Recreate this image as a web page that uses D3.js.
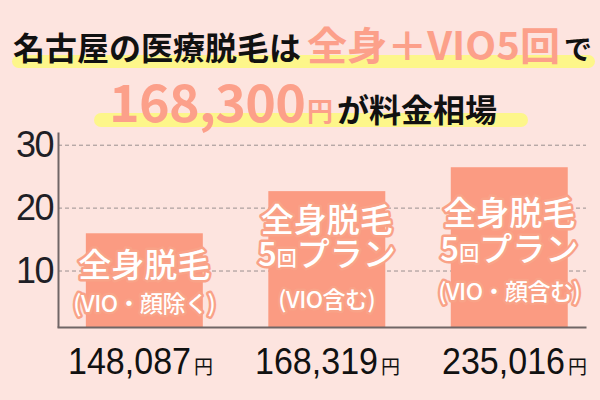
<!DOCTYPE html>
<html>
<head>
<meta charset="utf-8">
<script src="https://cdn.jsdelivr.net/npm/d3@7"></script>
<style>
  body { margin: 0; background: #fde4df; }
  svg { display: block; }
</style>
</head>
<body>
<div id="chart"></div>
<script>
// data
const categories = ["whole", "plan5", "plan5face"]
const barValues = [16.0, 22.7, 26.5]
const barLabels = [
  ["全身脱毛", "(VIO・顔除く)"],
  ["全身脱毛", "5回プラン", "(VIO含む)"],
  ["全身脱毛", "5回プラン", "(VIO・顔含む)"]
]
const prices = ["148,087", "168,319", "235,016"]
const yTicks = [10, 20, 30]

const width = 600
const height = 400
const salmon = "#fca08a"
const barColor = "#fb9b82"
const jp = "'Noto Sans CJK JP', sans-serif"

const svg = d3.select("#chart")
  .append("svg")
  .attr("width", width)
  .attr("height", height)

svg.append("rect").attr("width", width).attr("height", height).attr("fill", "#fde4df")

// title with yellow marker lines
svg.append("rect").attr("x", 12).attr("y", 55).attr("width", 583).attr("height", 13)
  .attr("rx", 6.5).attr("fill", "#fdf68a")
svg.append("rect").attr("x", 94).attr("y", 113).attr("width", 434).attr("height", 14)
  .attr("rx", 7).attr("fill", "#fdf68a")

function titlePart(txt, xx, yy, size, fill, len) {
  const t = svg.append("text")
    .attr("x", xx).attr("y", yy)
    .attr("font-family", jp)
    .attr("font-weight", 700)
    .attr("font-size", size)
    .attr("fill", fill)
    .text(txt)
  if (len) t.attr("textLength", len).attr("lengthAdjust", "spacingAndGlyphs")
  return t
}
titlePart("名古屋の医療脱毛は", 13, 60, 32, "#111", 288)
titlePart("全身＋VIO5回", 307, 60, 39, salmon, 253)
titlePart("で", 564, 60, 28, "#111")

titlePart("168,300", 109, 122, 52, salmon, 197).attr("lengthAdjust", "spacing")
titlePart("円", 307, 121, 26, salmon)
titlePart("が料金相場", 337, 122, 32, "#111", 160)

// scales
const x = d3.scaleBand()
  .domain(categories)
  .range([53, 600.6])
  .paddingInner(0.359)
  .paddingOuter(0.18)

const y = d3.scaleLinear()
  .domain([1.1, 32.1])
  .range([327, 132])

// grid lines (behind the bars)
svg.append("g")
  .selectAll("line")
  .data(yTicks)
  .enter()
  .append("line")
    .attr("x1", 58).attr("x2", 586)
    .attr("y1", d => y(d)).attr("y2", d => y(d))
    .attr("stroke", "#9a9090")
    .attr("stroke-width", 1)
    .attr("stroke-dasharray", "4,3")

svg.append("g")
  .selectAll("rect")
  .data(barValues)
  .enter()
  .append("rect")
    .attr("x", (d, i) => x(categories[i]))
    .attr("y", d => y(d))
    .attr("width", x.bandwidth())
    .attr("height", d => y(y.domain()[0]) - y(d))
    .attr("fill", barColor)

// axes
const yAxis = svg.append("g")
  .attr("transform", "translate(58,0)")
  .call(d3.axisLeft(y).tickValues(yTicks).tickSize(0).tickPadding(5))
yAxis.select(".domain").attr("stroke", "#706666").attr("stroke-width", 2)
yAxis.selectAll("text")
  .attr("font-family", "'Liberation Sans', Arial, sans-serif")
  .attr("font-size", 36)
  .attr("letter-spacing", -1.5)
  .attr("fill", "#1f1f26")

const xAxis = svg.append("g")
  .attr("transform", "translate(0,327)")
  .call(d3.axisBottom(d3.scaleLinear().range([57, 586])).ticks(0).tickSize(0))
xAxis.select(".domain").attr("stroke", "#706666").attr("stroke-width", 2)

// labels inside the bars (baselines per line)
const labelY = [[277, 312], [232, 266, 308], [225, 261, 300]]
categories.forEach((c, i) => {
  const cx = x(c) + x.bandwidth() / 2
  barLabels[i].forEach((line, j) => {
    const last = j === barLabels[i].length - 1
    const t = svg.append("text")
      .attr("x", cx).attr("y", labelY[i][j])
      .attr("text-anchor", "middle")
      .attr("font-family", jp)
      .attr("font-weight", 500)
      .attr("fill", "#fff")
      .attr("stroke", "#f9a287")
      .attr("stroke-width", 5)
      .attr("stroke-linejoin", "round")
      .attr("paint-order", "stroke")
    if (last) {
      t.attr("font-size", 23).attr("letter-spacing", -0.5).text(line)
    } else if (line.startsWith("5回")) {
      t.attr("font-size", 33)
      t.append("tspan").text("5")
      t.append("tspan").attr("font-size", 20).text("回")
      t.append("tspan").text(line.slice(2))
    } else {
      t.attr("font-size", 33).text(line)
    }
  })
})

// prices under the chart (narrowed font)
const px = d3.scalePoint().domain(categories).range([141, 515])
prices.forEach((p, i) => {
  const cx = px(categories[i])
  svg.append("text")
    .attr("transform", "translate(" + (cx - 73) + ",374) scale(0.92,1)")
    .attr("font-family", "'Liberation Sans', sans-serif")
    .attr("font-size", 37)
    .attr("fill", "#111")
    .text(p)
  svg.append("text")
    .attr("x", cx + 53).attr("y", 374)
    .attr("font-family", jp)
    .attr("font-size", 19)
    .attr("fill", "#111")
    .text("円")
})
</script>
</body>
</html>
